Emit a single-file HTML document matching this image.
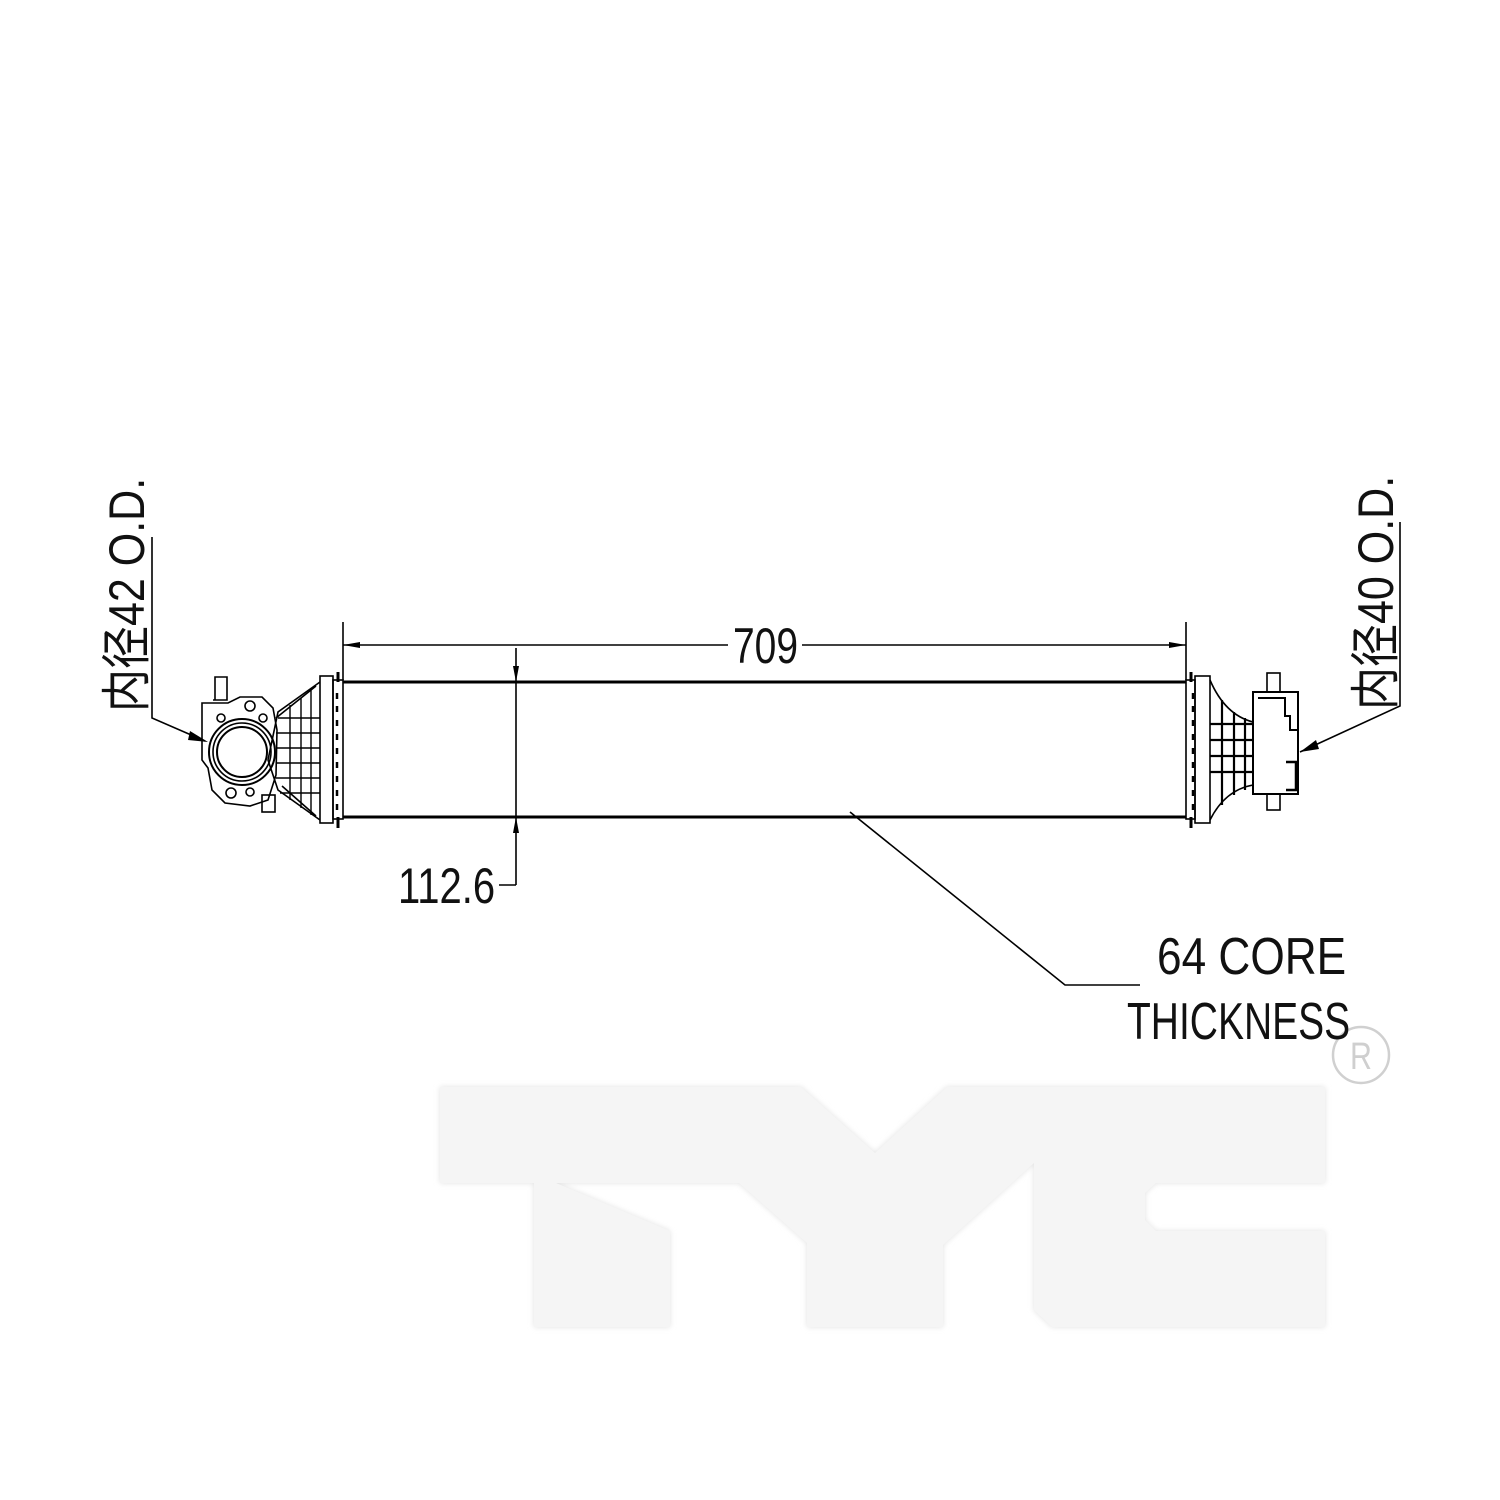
<!DOCTYPE html>
<html><head><meta charset="utf-8"><style>
html,body{margin:0;padding:0;background:#fff;width:1500px;height:1500px;overflow:hidden}
svg{display:block}
text{font-family:"Liberation Sans","Noto Sans CJK SC",sans-serif;fill:#111}
</style></head><body>
<svg width="1500" height="1500" viewBox="0 0 1500 1500" xmlns="http://www.w3.org/2000/svg">
<defs>
<filter id="sh" x="-5%" y="-5%" width="110%" height="110%"><feGaussianBlur stdDeviation="3"/></filter>
</defs>
<g>
<path d="M440 1087 L801 1087 L875 1153 L947 1087 L1325 1087 L1325 1183 L1156 1183 L1145 1193 L1145 1220 L1156 1231 L1325 1231 L1325 1327 L1052 1327 L1034 1310 L1034 1163 L943 1245 L943 1327 L807 1327 L807 1243 L739 1183 L556 1183 L670 1231 L670 1327 L534 1327 L534 1183 L440 1183 Z" fill="#e2e2e2" filter="url(#sh)"/>
<path d="M440 1087 L801 1087 L875 1153 L947 1087 L1325 1087 L1325 1183 L1156 1183 L1145 1193 L1145 1220 L1156 1231 L1325 1231 L1325 1327 L1052 1327 L1034 1310 L1034 1163 L943 1245 L943 1327 L807 1327 L807 1243 L739 1183 L556 1183 L670 1231 L670 1327 L534 1327 L534 1183 L440 1183 Z" fill="#f5f5f5"/>
</g>
<circle cx="1361" cy="1055" r="28" fill="none" stroke="#d0d0d0" stroke-width="2.5"/>
<text x="1361" y="1069" font-size="38" text-anchor="middle" style="fill:#cfcfcf" transform="translate(1361 0) scale(0.8 1) translate(-1361 0)">R</text>

<g stroke="#000" fill="none" stroke-width="1.6">
<line x1="343" y1="682" x2="1186" y2="682" stroke-width="3"/>
<line x1="343" y1="817" x2="1186" y2="817" stroke-width="3"/>
<line x1="343" y1="622" x2="343" y2="680"/>
<line x1="1186" y1="622" x2="1186" y2="680"/>
<line x1="343" y1="645" x2="728" y2="645"/>
<line x1="802" y1="645" x2="1186" y2="645"/>
<line x1="516" y1="648" x2="516" y2="885"/>
<line x1="499" y1="885" x2="516" y2="885"/>
<polyline points="850,812 1065,985 1140,985"/>
<polyline points="152,537 152,718 205,741"/>
<polyline points="1400,522 1400,706 1300,752"/>

<rect x="333" y="680" width="10" height="139"/>
<rect x="320" y="676" width="13" height="147"/>
<line x1="338" y1="672" x2="338" y2="682" stroke-width="3"/>
<line x1="338" y1="817" x2="338" y2="828" stroke-width="3"/>
<g stroke-width="2.5"><line x1="337" y1="693" x2="337" y2="699"/><line x1="337" y1="706" x2="337" y2="712"/><line x1="337" y1="720" x2="337" y2="726"/><line x1="337" y1="734" x2="337" y2="740"/><line x1="337" y1="748" x2="337" y2="754"/><line x1="337" y1="762" x2="337" y2="768"/><line x1="337" y1="776" x2="337" y2="782"/><line x1="337" y1="790" x2="337" y2="796"/><line x1="337" y1="804" x2="337" y2="810"/></g>
<path d="M320 682 L278 712 L268 760 L278 790 L320 820"/>
<path d="M316 686 L276 718 M316 816 L282 786"/>
<g stroke-width="1.4">
<line x1="278" y1="718" x2="320" y2="718"/><line x1="276" y1="733" x2="320" y2="733"/><line x1="276" y1="748" x2="320" y2="748"/><line x1="276" y1="763" x2="320" y2="763"/><line x1="276" y1="778" x2="320" y2="778"/><line x1="280" y1="793" x2="320" y2="793"/>
<line x1="290" y1="705" x2="290" y2="800"/><line x1="301" y1="698" x2="301" y2="808"/><line x1="311" y1="690" x2="311" y2="815"/>
</g>
<path d="M213 700 L227 700 L227 677 L215 677 L215 700" />
<path d="M202 703 L228 703 L240 697 L262 697 L273 708 L277 730 L276 775 L268 800 L250 806 L225 803 L212 790 L208 768 L202 760 Z"/>
<circle cx="242" cy="752" r="33" stroke-width="2"/>
<circle cx="242" cy="752" r="29"/>
<circle cx="242" cy="752" r="25" stroke-width="2"/>
<circle cx="250" cy="706" r="5"/><circle cx="263" cy="718" r="4"/><circle cx="221" cy="718" r="4"/>
<circle cx="231" cy="793" r="5"/><circle cx="250" cy="792" r="4"/>
<rect x="262" y="795" width="13" height="17"/>

<rect x="1186" y="680" width="9" height="139"/>
<rect x="1195" y="676" width="15" height="147"/>
<line x1="1191" y1="672" x2="1191" y2="682" stroke-width="3"/>
<line x1="1191" y1="817" x2="1191" y2="828" stroke-width="3"/>
<g stroke-width="2.5"><line x1="1193" y1="693" x2="1193" y2="699"/><line x1="1193" y1="706" x2="1193" y2="712"/><line x1="1193" y1="720" x2="1193" y2="726"/><line x1="1193" y1="734" x2="1193" y2="740"/><line x1="1193" y1="748" x2="1193" y2="754"/><line x1="1193" y1="762" x2="1193" y2="768"/><line x1="1193" y1="776" x2="1193" y2="782"/><line x1="1193" y1="790" x2="1193" y2="796"/><line x1="1193" y1="804" x2="1193" y2="810"/></g>
<path d="M1210 680 Q1225 715 1253 722 M1210 820 Q1225 790 1253 785"/>
<g stroke-width="2.2">
<line x1="1210" y1="724" x2="1253" y2="724"/><line x1="1210" y1="740" x2="1253" y2="740"/><line x1="1210" y1="756" x2="1253" y2="756"/><line x1="1210" y1="772" x2="1253" y2="772"/>
<line x1="1222" y1="700" x2="1222" y2="805"/><line x1="1234" y1="712" x2="1234" y2="795"/><line x1="1245" y1="718" x2="1245" y2="790"/>
</g>
<rect x="1253" y="692" width="45" height="102" stroke-width="2"/>
<path d="M1258 698 L1285 698 L1285 716 L1290 716 L1290 730 L1298 730" stroke-width="2"/>
<path d="M1286 762 L1296 762 L1296 790 L1286 790" stroke-width="2.5"/>
<rect x="1267" y="673" width="13" height="19"/>
<rect x="1267" y="794" width="13" height="16"/>
</g>
<g fill="#000">
<polygon points="343,645 360,642 360,648"/>
<polygon points="1186,645 1169,642 1169,648"/>
<polygon points="516,682 513,666 519,666"/>
<polygon points="516,817 513,833 519,833"/>
<polygon points="208,742 190,731 188,740"/>
<polygon points="1300,752 1316,740 1319,749"/>
</g>
<text x="733" y="663" font-size="50" transform="translate(733 0) scale(0.78 1) translate(-733 0)">709</text>
<text x="398" y="903" font-size="50" transform="translate(398 0) scale(0.8 1) translate(-398 0)">112.6</text>
<text x="1157" y="974" font-size="52" transform="translate(1157 0) scale(0.85 1) translate(-1157 0)">64 CORE</text>
<text x="1127" y="1039" font-size="52" transform="translate(1127 0) scale(0.75 1) translate(-1127 0)">THICKNESS</text>
<g transform="translate(144 712) rotate(-90)"><text x="0" y="0" font-size="50" transform="scale(0.86 1)">内径42  O.D.</text></g>
<g transform="translate(1393 710) rotate(-90)"><text x="0" y="0" font-size="50" transform="scale(0.86 1)">内径40  O.D.</text></g>
</svg>
</body></html>
